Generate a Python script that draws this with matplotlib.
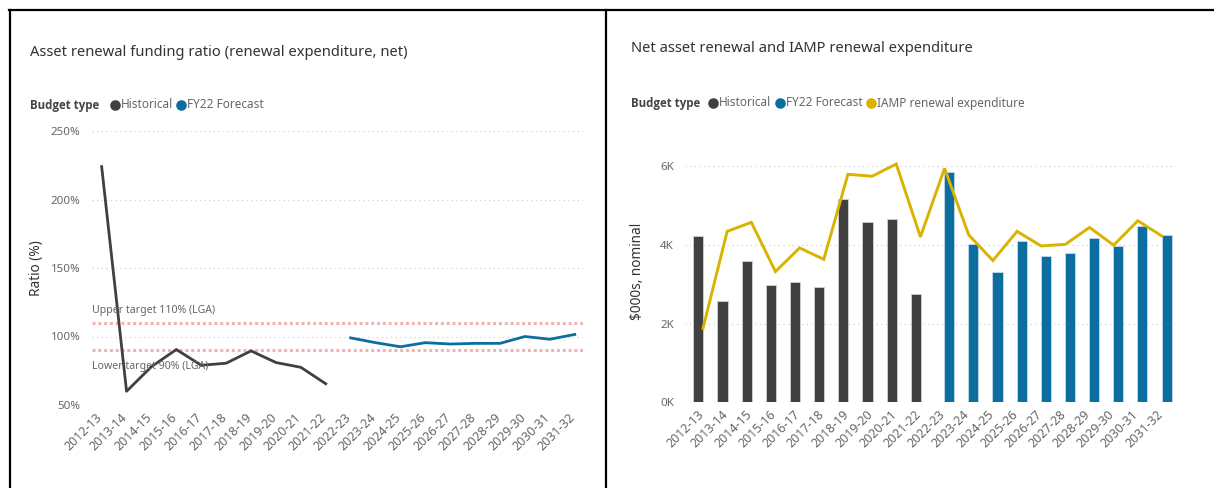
import matplotlib
matplotlib.use("Agg")
import matplotlib.pyplot as plt
from matplotlib.lines import Line2D
from matplotlib.transforms import ScaledTranslation
import numpy as np

# ---------------- data ----------------
years = ['2012-13', '2013-14', '2014-15', '2015-16', '2016-17', '2017-18', '2018-19',
         '2019-20', '2020-21', '2021-22', '2022-23', '2023-24', '2024-25', '2025-26',
         '2026-27', '2027-28', '2028-29', '2029-30', '2030-31', '2031-32']
hist_years = years[:10]
fcst_years = years[10:]

ratio_hist = [224, 60, 78, 90.5, 79, 80.5, 89.5, 81, 77.5, 65.5]
ratio_fcst = [99, 95.5, 92.5, 95.5, 94.5, 95, 95, 100, 98, 101.5]
upper_target = 110
lower_target = 90
ratio_ticks = [50, 100, 150, 200, 250]

renew_hist = [4230, 2560, 3600, 2990, 3050, 2920, 5150, 4590, 4650, 2750]
renew_fcst = [5850, 4030, 3300, 4090, 3720, 3790, 4180, 3980, 4480, 4260]
iamp = [1880, 4340, 4570, 3320, 3920, 3630, 5790, 5740, 6050, 4200,
        5940, 4250, 3600, 4340, 3970, 4010, 4440, 3990, 4610, 4220]
renew_ticks = [0, 2000, 4000, 6000]

# ---------------- style ----------------
C_HIST = '#404040'
C_FCST = '#0b6e9f'
C_IAMP = '#d9b300'
C_TXT = '#666666'
C_TITLE = '#333333'
C_GRID = '#c8c8c8'
C_TARGET = '#f2b3b3'
FONT = 'Noto Sans'
plt.rcParams['font.family'] = [FONT, 'DejaVu Sans']

W, H = 1214, 488
fig = plt.figure(figsize=(W / 100, H / 100), dpi=100)


def px_axes(x0, y0, x1, y1):
    return fig.add_axes([x0 / W, 1 - y1 / H, (x1 - x0) / W, (y1 - y0) / H])


def fx(x):
    return x / W


def fy(y):
    return 1 - y / H


# frame lines
for (xa, ya, xb, yb) in [(9, 10, 1214, 10), (9.5, 10, 9.5, 488), (605.5, 10, 605.5, 488)]:
    fig.add_artist(Line2D([fx(xa), fx(xb)], [fy(ya), fy(yb)], color='black', lw=1.6,
                          transform=fig.transFigure))


def style_axes(ax):
    for s in ax.spines.values():
        s.set_visible(False)
    ax.tick_params(axis='y', length=0, colors=C_TXT, labelsize=8.3, pad=8)
    ax.tick_params(axis='x', length=0, colors=C_TXT, labelsize=9.0, pad=4)
    ax.yaxis.grid(True, color=C_GRID, lw=0.8, linestyle=(0, (1, 3.2)))
    ax.set_axisbelow(True)


def shift_xlabels(ax, dx_px, dy_px):
    off = ScaledTranslation(dx_px / 100, dy_px / 100, fig.dpi_scale_trans)
    for lab in ax.get_xticklabels():
        lab.set_transform(lab.get_transform() + off)


def legend(x0, y, x_items, labels, colors):
    fig.text(fx(x0), fy(y), 'Budget type', fontsize=8.3, family=['Open Sans', 'DejaVu Sans'],
             fontweight='bold', color='#444444', va='center', ha='left')
    for xm, lab, col in zip(x_items, labels, colors):
        fig.add_artist(Line2D([fx(xm)], [fy(y)], marker='o', ms=6.6, color=col, lw=0,
                              transform=fig.transFigure))
        fig.text(fx(xm + 6), fy(y), lab, fontsize=8.5, color=C_TXT, va='center', ha='left')


# ---------------- left chart ----------------
fig.text(fx(30), fy(52), 'Asset renewal funding ratio (renewal expenditure, net)',
         fontsize=10.6, color=C_TITLE, va='center', ha='left')
legend(30, 105, [115, 181], ['Historical', 'FY22 Forecast'], [C_HIST, C_FCST])

ax1 = px_axes(91.7, 131, 582.7, 405)
style_axes(ax1)
xi = np.arange(len(years))
ax1.plot(xi[:10], ratio_hist, color=C_HIST, lw=2)
ax1.plot(xi[10:], ratio_fcst, color=C_FCST, lw=2)
ax1.axhline(upper_target, color=C_TARGET, lw=2.2, linestyle=(0, (1.0, 0.9)), zorder=1)
ax1.axhline(lower_target, color=C_TARGET, lw=2.2, linestyle=(0, (1.0, 0.9)), zorder=1)
ax1.set_xlim(-0.40, 19.32)
ax1.set_ylim(50, 250)
ax1.set_yticks(ratio_ticks)
ax1.set_yticklabels([f'{v}%' for v in ratio_ticks])
ax1.set_xticks(xi)
ax1.set_xticklabels(years, rotation=45, ha='right', rotation_mode='anchor')
shift_xlabels(ax1, -6, 0)
ax1.set_ylabel('Ratio (%)', fontsize=9.8, color=C_TITLE, labelpad=5)
fig.text(fx(92.5), fy(311), f'Upper target {upper_target}% (LGA)',
         fontsize=7.6, color=C_TXT, va='center', ha='left')
fig.text(fx(92.5), fy(366), f'Lower target {lower_target}% (LGA)',
         fontsize=7.6, color=C_TXT, va='center', ha='left')

# ---------------- right chart ----------------
fig.text(fx(631), fy(48), 'Net asset renewal and IAMP renewal expenditure',
         fontsize=10.6, color=C_TITLE, va='center', ha='left')
legend(631, 103, [713, 780, 871], ['Historical', 'FY22 Forecast', 'IAMP renewal expenditure'],
       [C_HIST, C_FCST, C_IAMP])

ax2 = px_axes(685, 140, 1176, 402.3)
style_axes(ax2)
bw = 0.42
off = 0.19
ax2.bar(xi[:10] - off, renew_hist, width=bw, color=C_HIST, edgecolor='#d0d0d0', lw=0.6, zorder=2)
ax2.bar(xi[10:] + off, renew_fcst, width=bw, color=C_FCST, edgecolor='#c5dbe8', lw=0.6, zorder=2)
ax2.plot(xi, iamp, color=C_IAMP, lw=2.1, zorder=3, solid_joinstyle='miter')
ax2.set_xlim(-0.745, 19.58)
ax2.set_ylim(0, 6660)
ax2.set_yticks(renew_ticks)
ax2.set_yticklabels([f'{v // 1000}K' for v in renew_ticks])
ax2.set_xticks(xi)
ax2.set_xticklabels(years, rotation=45, ha='right', rotation_mode='anchor')
shift_xlabels(ax2, -6, 0)
ax2.set_ylabel('$000s, nominal', fontsize=9.8, color=C_TITLE, labelpad=11)

fig.savefig('out.png', dpi=100, facecolor='white')
